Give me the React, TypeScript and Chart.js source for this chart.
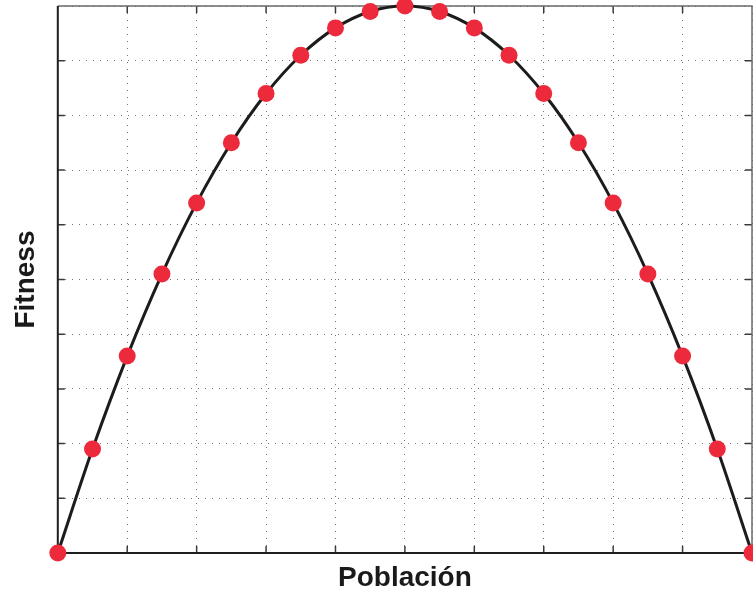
import React, { useEffect, useRef } from "react";
import { Chart, registerables } from "chart.js";

Chart.register(...registerables);

const populationX = [0, 0.05, 0.1, 0.15, 0.2, 0.25, 0.3, 0.35, 0.4, 0.45, 0.5, 0.55, 0.6, 0.65, 0.7, 0.75, 0.8, 0.85, 0.9, 0.95, 1];
const fitnessY = [0, 0.19, 0.36, 0.51, 0.64, 0.75, 0.84, 0.91, 0.96, 0.99, 1, 0.99, 0.96, 0.91, 0.84, 0.75, 0.64, 0.51, 0.36, 0.19, 0];
const xTitle = "Población";
const yTitle = "Fitness";

const boxPlugin = {
  id: "matlabBox",
  beforeDatasetsDraw(chart: any) {
    const { ctx, chartArea } = chart;
    const { left, right, top, bottom } = chartArea;
    const xs = chart.scales.x;
    const ys = chart.scales.y;
    const tl = 7;
    ctx.save();
    ctx.lineCap = "butt";
    ctx.strokeStyle = "#3a3a3a";
    ctx.lineWidth = 1.5;
    xs.ticks.forEach((t: any) => {
      const px = xs.getPixelForValue(t.value);
      if (px <= left + 1 || px >= right - 1) return;
      ctx.beginPath();
      ctx.moveTo(px, bottom);
      ctx.lineTo(px, bottom - tl);
      ctx.moveTo(px, top);
      ctx.lineTo(px, top + tl);
      ctx.stroke();
    });
    ys.ticks.forEach((t: any) => {
      const py = ys.getPixelForValue(t.value);
      if (py <= top + 1 || py >= bottom - 1) return;
      ctx.beginPath();
      ctx.moveTo(left, py);
      ctx.lineTo(left + tl, py);
      ctx.moveTo(right, py);
      ctx.lineTo(right - tl, py);
      ctx.stroke();
    });
    ctx.strokeStyle = "#6a6a6a";
    ctx.lineWidth = 1.5;
    ctx.beginPath();
    ctx.moveTo(left, top);
    ctx.lineTo(right, top);
    ctx.lineTo(right, bottom);
    ctx.stroke();
    ctx.strokeStyle = "#1e1e1e";
    ctx.lineWidth = 2;
    ctx.beginPath();
    ctx.moveTo(left, top);
    ctx.lineTo(left, bottom);
    ctx.lineTo(right, bottom);
    ctx.stroke();
    ctx.restore();
  },
};

export default function App() {
  const ref = useRef<HTMLCanvasElement>(null);
  useEffect(() => {
    if (!ref.current) return;
    const chart = new Chart(ref.current, {
      type: "line",
      data: {
        datasets: [
          {
            data: populationX.map((x, i) => ({ x, y: fitnessY[i] })),
            borderColor: "#1c1c1c",
            borderWidth: 3,
            backgroundColor: "#ec2a3b",
            pointBackgroundColor: "#ec2a3b",
            pointBorderColor: "#ec2a3b",
            pointBorderWidth: 0,
            pointRadius: 8.5,
            cubicInterpolationMode: "monotone",
            clip: false as any,
          },
        ],
      },
      options: {
        responsive: false,
        animation: false,
        layout: { autoPadding: false, padding: { left: 9, right: 1, top: 6, bottom: 0 } },
        plugins: { legend: { display: false }, tooltip: { enabled: false } },
        scales: {
          x: {
            type: "linear",
            min: 0,
            max: 1,
            ticks: { display: false, stepSize: 0.1 },
            grid: { drawTicks: false, color: "rgba(90,90,90,0.85)", lineWidth: 1 },
            border: { display: false, dash: [1, 6] },
            title: {
              display: true,
              text: xTitle,
              color: "#1a1a1a",
              font: { family: "'Liberation Sans', Arial, sans-serif", size: 28, weight: "bold" },
              padding: { top: 8.2, bottom: 1.2 },
            },
          },
          y: {
            type: "linear",
            min: 0,
            max: 1,
            ticks: { display: false, stepSize: 0.1 },
            grid: { drawTicks: false, color: "rgba(90,90,90,0.85)", lineWidth: 1 },
            border: { display: false, dash: [1, 6] },
            title: {
              display: true,
              text: yTitle,
              color: "#1a1a1a",
              font: { family: "'Liberation Sans', Arial, sans-serif", size: 28, weight: "bold" },
              padding: { top: 0, bottom: 15.2 },
            },
          },
        },
      },
      plugins: [boxPlugin],
    });
    return () => chart.destroy();
  }, []);
  return (
    <div style={{ position: "fixed", left: 0, top: 0, width: 753, height: 596, background: "#fff" }}>
      <canvas ref={ref} width={753} height={596} style={{ display: "block" }} />
    </div>
  );
}
